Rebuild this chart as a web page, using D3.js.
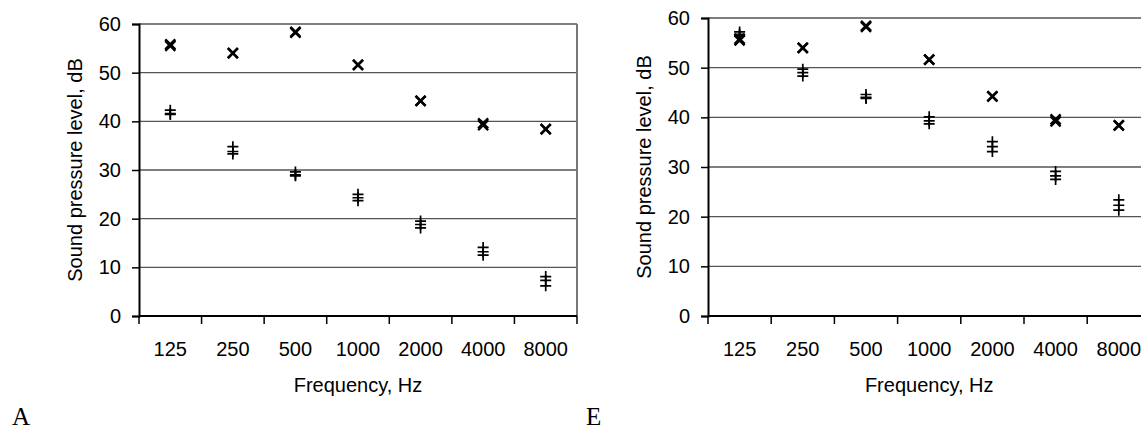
<!DOCTYPE html>
<html>
<head>
<meta charset="utf-8">
<script src="https://cdn.jsdelivr.net/npm/d3@7"></script>
<style>
  body { margin: 0; background: #fff; }
  svg { display: block; }
</style>
</head>
<body>
<div id="chart"></div>
<script>
const freqs = ["125", "250", "500", "1000", "2000", "4000", "8000"];
const yTicks = [0, 10, 20, 30, 40, 50, 60];

// reference curve (x markers), same in both panels
const refX1 = [55.8, 54.0, 58.4, 51.6, 44.2, 39.6, 38.4];
const refX2 = [55.5, 54.0, 58.2, 51.6, 44.2, 39.2, 38.4];

// panel A, measured (+ markers)
const plusA1 = [42.3, 34.8, 29.6, 25.0, 19.5, 14.1, 8.1];
const plusA2 = [41.4, 33.8, 29.0, 24.3, 18.8, 13.2, 7.3];
const plusA3 = [41.6, 33.3, 28.8, 23.7, 18.1, 12.5, 6.2];

// panel E, measured (+ markers)
const plusE1 = [57.2, 49.7, 44.6, 40.1, 35.1, 29.1, 23.4];
const plusE2 = [56.7, 49.0, 44.0, 39.3, 34.1, 28.2, 22.3];
const plusE3 = [56.4, 48.3, 43.8, 38.7, 33.1, 27.5, 21.3];

const svg = d3.select("#chart")
    .append("svg")
    .attr("width", 1141)
    .attr("height", 432);

const FONT = "'Liberation Sans', Arial, sans-serif";

function drawPanel(p) {
    const x = d3.scaleBand()
        .domain(freqs)
        .range([p.left, p.right])
        .padding(0);
    const y = d3.scaleLinear()
        .domain([0, 60])
        .range([p.bottom, p.top]);

    const g = svg.append("g");

    // gridlines
    g.append("g")
        .selectAll("line")
        .data(yTicks.filter(d => d > 0))
        .join("line")
        .attr("x1", p.left)
        .attr("x2", p.right)
        .attr("y1", d => y(d))
        .attr("y2", d => y(d))
        .attr("stroke", "#555")
        .attr("stroke-width", 1.4);

    // right border
    g.append("line")
        .attr("x1", p.right).attr("x2", p.right)
        .attr("y1", p.top).attr("y2", p.bottom)
        .attr("stroke", "#777")
        .attr("stroke-width", 2);

    // Y axis
    const yAxis = g.append("g")
        .attr("transform", `translate(${p.left},0)`)
        .call(d3.axisLeft(y).tickValues(yTicks).tickSize(7).tickPadding(11));
    yAxis.select(".domain").attr("stroke", "#000").attr("stroke-width", 2);
    yAxis.selectAll(".tick line").attr("stroke", "#000").attr("stroke-width", 1.5);
    yAxis.selectAll(".tick text")
        .attr("font-family", FONT)
        .attr("font-size", 20)
        .attr("fill", "#000");

    // X axis (labels centred in bands, ticks at band edges)
    const xAxis = g.append("g")
        .attr("transform", `translate(0,${p.bottom})`)
        .call(d3.axisBottom(x).tickSize(0).tickPadding(26));
    xAxis.select(".domain").remove();
    xAxis.selectAll(".tick text")
        .attr("font-family", FONT)
        .attr("font-size", 20)
        .attr("fill", "#000");

    g.append("line")
        .attr("x1", p.left).attr("x2", p.right)
        .attr("y1", p.bottom).attr("y2", p.bottom)
        .attr("stroke", "#000")
        .attr("stroke-width", 2);

    g.append("g")
        .selectAll("line")
        .data(freqs.map(f => x(f)).concat([p.right]))
        .join("line")
        .attr("x1", d => d).attr("x2", d => d)
        .attr("y1", p.bottom).attr("y2", p.bottom + 8)
        .attr("stroke", "#000")
        .attr("stroke-width", 1.5);

    // axis titles
    g.append("text")
        .attr("x", (p.left + p.right) / 2)
        .attr("y", 392)
        .attr("text-anchor", "middle")
        .attr("font-family", FONT)
        .attr("font-size", 20)
        .text("Frequency, Hz");

    g.append("text")
        .attr("transform", `translate(${p.left - 57},${(p.top + p.bottom) / 2}) rotate(-90)`)
        .attr("text-anchor", "middle")
        .attr("font-family", FONT)
        .attr("font-size", 20)
        .text("Sound pressure level, dB");

    // panel letter
    g.append("text")
        .attr("x", p.letterX)
        .attr("y", 425)
        .attr("font-family", "'Liberation Serif', 'Times New Roman', serif")
        .attr("font-size", 25)
        .text(p.letter);

    const cx = f => x(f) + x.bandwidth() / 2;

    // + markers
    p.plus.forEach(series => {
        g.append("g")
            .selectAll("path")
            .data(freqs.map((f, i) => ({ f, v: series[i] })))
            .join("path")
            .attr("transform", d => `translate(${cx(d.f)},${y(d.v)})`)
            .attr("d", "M-5.5,0H5.5M0,-5.5V5.5")
            .attr("stroke", "#000")
            .attr("stroke-width", 1.7)
            .attr("fill", "none");
    });

    // x markers
    [refX1, refX2].forEach(series => {
        g.append("g")
            .selectAll("path")
            .data(freqs.map((f, i) => ({ f, v: series[i] })))
            .join("path")
            .attr("transform", d => `translate(${cx(d.f)},${y(d.v)})`)
            .attr("d", "M-5,-5L5,5M5,-5L-5,5")
            .attr("stroke", "#000")
            .attr("stroke-width", 2.4)
            .attr("fill", "none");
    });
}

drawPanel({
    left: 139, right: 577, top: 24, bottom: 316,
    plus: [plusA1, plusA2, plusA3],
    letter: "A", letterX: 12
});

drawPanel({
    left: 708, right: 1150.4, top: 18, bottom: 316,
    plus: [plusE1, plusE2, plusE3],
    letter: "E", letterX: 586
});
</script>
</body>
</html>
